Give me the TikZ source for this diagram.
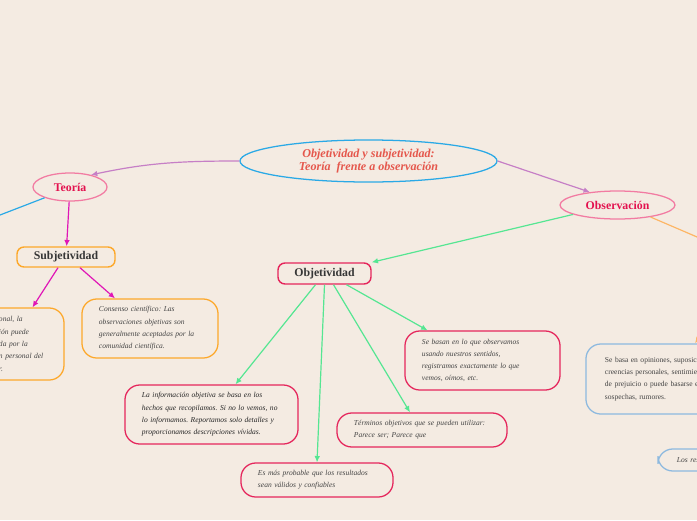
\documentclass[tikz,border=0pt]{standalone}
\usepackage{fontspec}
\setmainfont{Liberation Serif}
\usepackage{xcolor}
\usetikzlibrary{arrows.meta, positioning, shapes.geometric, calc}

\definecolor{fondo}{HTML}{F4EBE2}
\definecolor{azul}{HTML}{2AA9E6}
\definecolor{coral}{HTML}{E5574C}
\definecolor{rosa}{HTML}{F27BA2}
\definecolor{carmin}{HTML}{E3124F}
\definecolor{borde}{HTML}{E5265C}
\definecolor{naranja}{HTML}{FDA82A}
\definecolor{naranjaclaro}{HTML}{FDB665}
\definecolor{celeste}{HTML}{8DB9DF}
\definecolor{verde}{HTML}{55E692}
\definecolor{magenta}{HTML}{E016B6}
\definecolor{lila}{HTML}{C67FC6}
\definecolor{texto}{HTML}{444444}

\begin{document}
\begin{tikzpicture}[x=0.025cm, y=-0.025cm, >={Latex[length=4.5pt,width=4pt]},
    elipse/.style={draw=rosa, line width=0.9pt, ellipse, inner sep=0pt, text=carmin,
        font=\fontsize{8.4}{9}\selectfont\bfseries},
    titulo/.style={draw, rounded corners=5pt, line width=1pt, inner sep=0pt, text=texto!80!black,
        font=\fontsize{8.4}{9}\selectfont\bfseries},
    nota/.style={draw, rounded corners=10.5pt, line width=0.9pt, align=left, inner ysep=0pt,
        inner xsep=0.425cm, text=texto, font=\fontsize{5.35}{8.75}\selectfont\frenchspacing\itshape},
    enlace/.style={->, line width=0.85pt}]

    % Fondo y recorte
    \fill[fondo] (0,0) rectangle (697,520);
    \useasboundingbox (0,0) rectangle (697,520);
    \clip (0,0) rectangle (697,520);

    % Tema central
    \node[draw=azul, line width=0.9pt, ellipse, inner sep=0pt, minimum width=6.425cm, minimum height=1.05cm,
        text=coral, align=center, font=\fontsize{8.6}{7.8}\selectfont\bfseries\itshape]
        (raiz) at (368.5,161) {Objetividad y subjetividad:\\Teoría~ frente a observación};

    % Ramas principales
    \node[elipse, minimum width=1.85cm, minimum height=0.7cm] (teoria) at (70,187) {Teoría};
    \node[elipse, minimum width=2.875cm, minimum height=0.7cm] (observacion) at (617.5,205) {Observación};

    % Subtemas
    \node[titulo, draw=naranja, minimum width=2.45cm, minimum height=0.5cm] (subjetividad) at (66,257) {Subjetividad};
    \node[titulo, draw=borde, minimum width=2.325cm, minimum height=0.525cm] (objetividad) at (324.5,273.5) {Objetividad};

    % Notas de la subjetividad
    \node[nota, draw=naranja, inner xsep=0.45cm, text width=1.175cm, minimum height=1.8cm]
        (izq) at (22.5,344) {onal, la\\ión puede\\da por la\\n personal del\\r.};
    \node[nota, draw=naranja, text width=2.55cm, minimum height=1.475cm]
        (consenso) at (150,328.5) {Consenso científico: Las\\observaciones objetivas son\\generalmente aceptadas por la\\comunidad científica.};

    % Notas de la objetividad
    \node[nota, draw=borde, text width=3.025cm, minimum height=1.475cm]
        (sebasan) at (482.5,360.5) {Se basan en lo que observamos\\usando nuestros sentidos,\\registramos exactamente lo que\\vemos, oímos, etc.};
    \node[nota, draw=borde, text width=3.475cm, minimum height=1.475cm, text=black!85]
        (informacion) at (211.5,414.5) {La información objetiva se basa en los\\hechos que recopilamos. Si no lo vemos, no\\lo informamos. Reportamos solo detalles y\\proporcionamos descripciones vívidas.};
    \node[nota, draw=borde, text width=3.4cm, minimum height=0.85cm]
        (terminos) at (422,430) {Términos objetivos que se pueden utilizar:\\Parece ser; Parece que};
    \node[nota, draw=borde, text width=2.95cm, minimum height=0.85cm]
        (esmas) at (317,480) {Es más probable que los resultados\\sean válidos y confiables};

    % Notas de la derecha (cortadas por el borde)
    \node[nota, draw=celeste, inner xsep=0.475cm, text width=4.5cm, minimum height=1.75cm,
        font=\fontsize{5.35}{8.75}\selectfont]
        (derecha) at (695,379) {Se basa en opiniones, suposiciones,\\creencias personales, sentimientos\\de prejuicio o puede basarse en\\sospechas, rumores.};
    \node[nota, draw=celeste, inner xsep=0.475cm, text width=2.5cm, minimum height=0.55cm]
        (final) at (727,460) {Los resultados};

    % Puntos fuera del lienzo
    \coordinate (fueraT) at (-44,232);
    \coordinate (fueraO) at (760,264);
    \coordinate (fueraR) at (735,285);

    % Conectores
    \draw[enlace, lila] (raiz.west) to[out=180, in=12] (teoria.30);
    \draw[enlace, lila] (raiz.east) -- (observacion.155);
    \draw[line width=0.85pt, azul] (teoria.203) -- (fueraT);
    \draw[enlace, magenta] (teoria) -- (subjetividad);
    \draw[enlace, magenta] ($(subjetividad.south)+(-8,0)$) -- ($(izq.north)+(10,0)$);
    \draw[enlace, magenta] ($(subjetividad.south)+(14,0)$) -- ($(consenso.north)+(-35,0)$);
    \draw[enlace, verde] (observacion.192) -- (objetividad.north east);
    \draw[line width=0.85pt, naranjaclaro] (observacion.-20) -- (fueraO);
    \draw[enlace, naranjaclaro] (fueraR) -- (derecha.north);
    \draw[enlace, verde] ($(objetividad.south)+(-9,0)$) -- ($(informacion.north)+(24,0)$);
    \draw[enlace, verde] (objetividad.south) -- (esmas.north);
    \draw[enlace, verde] ($(objetividad.south)+(9,0)$) -- ($(terminos.north)+(-12,0)$);
    \draw[enlace, verde] ($(objetividad.south)+(22,0)$) -- ($(sebasan.north)+(-55,0)$);
\end{tikzpicture}
\end{document}
